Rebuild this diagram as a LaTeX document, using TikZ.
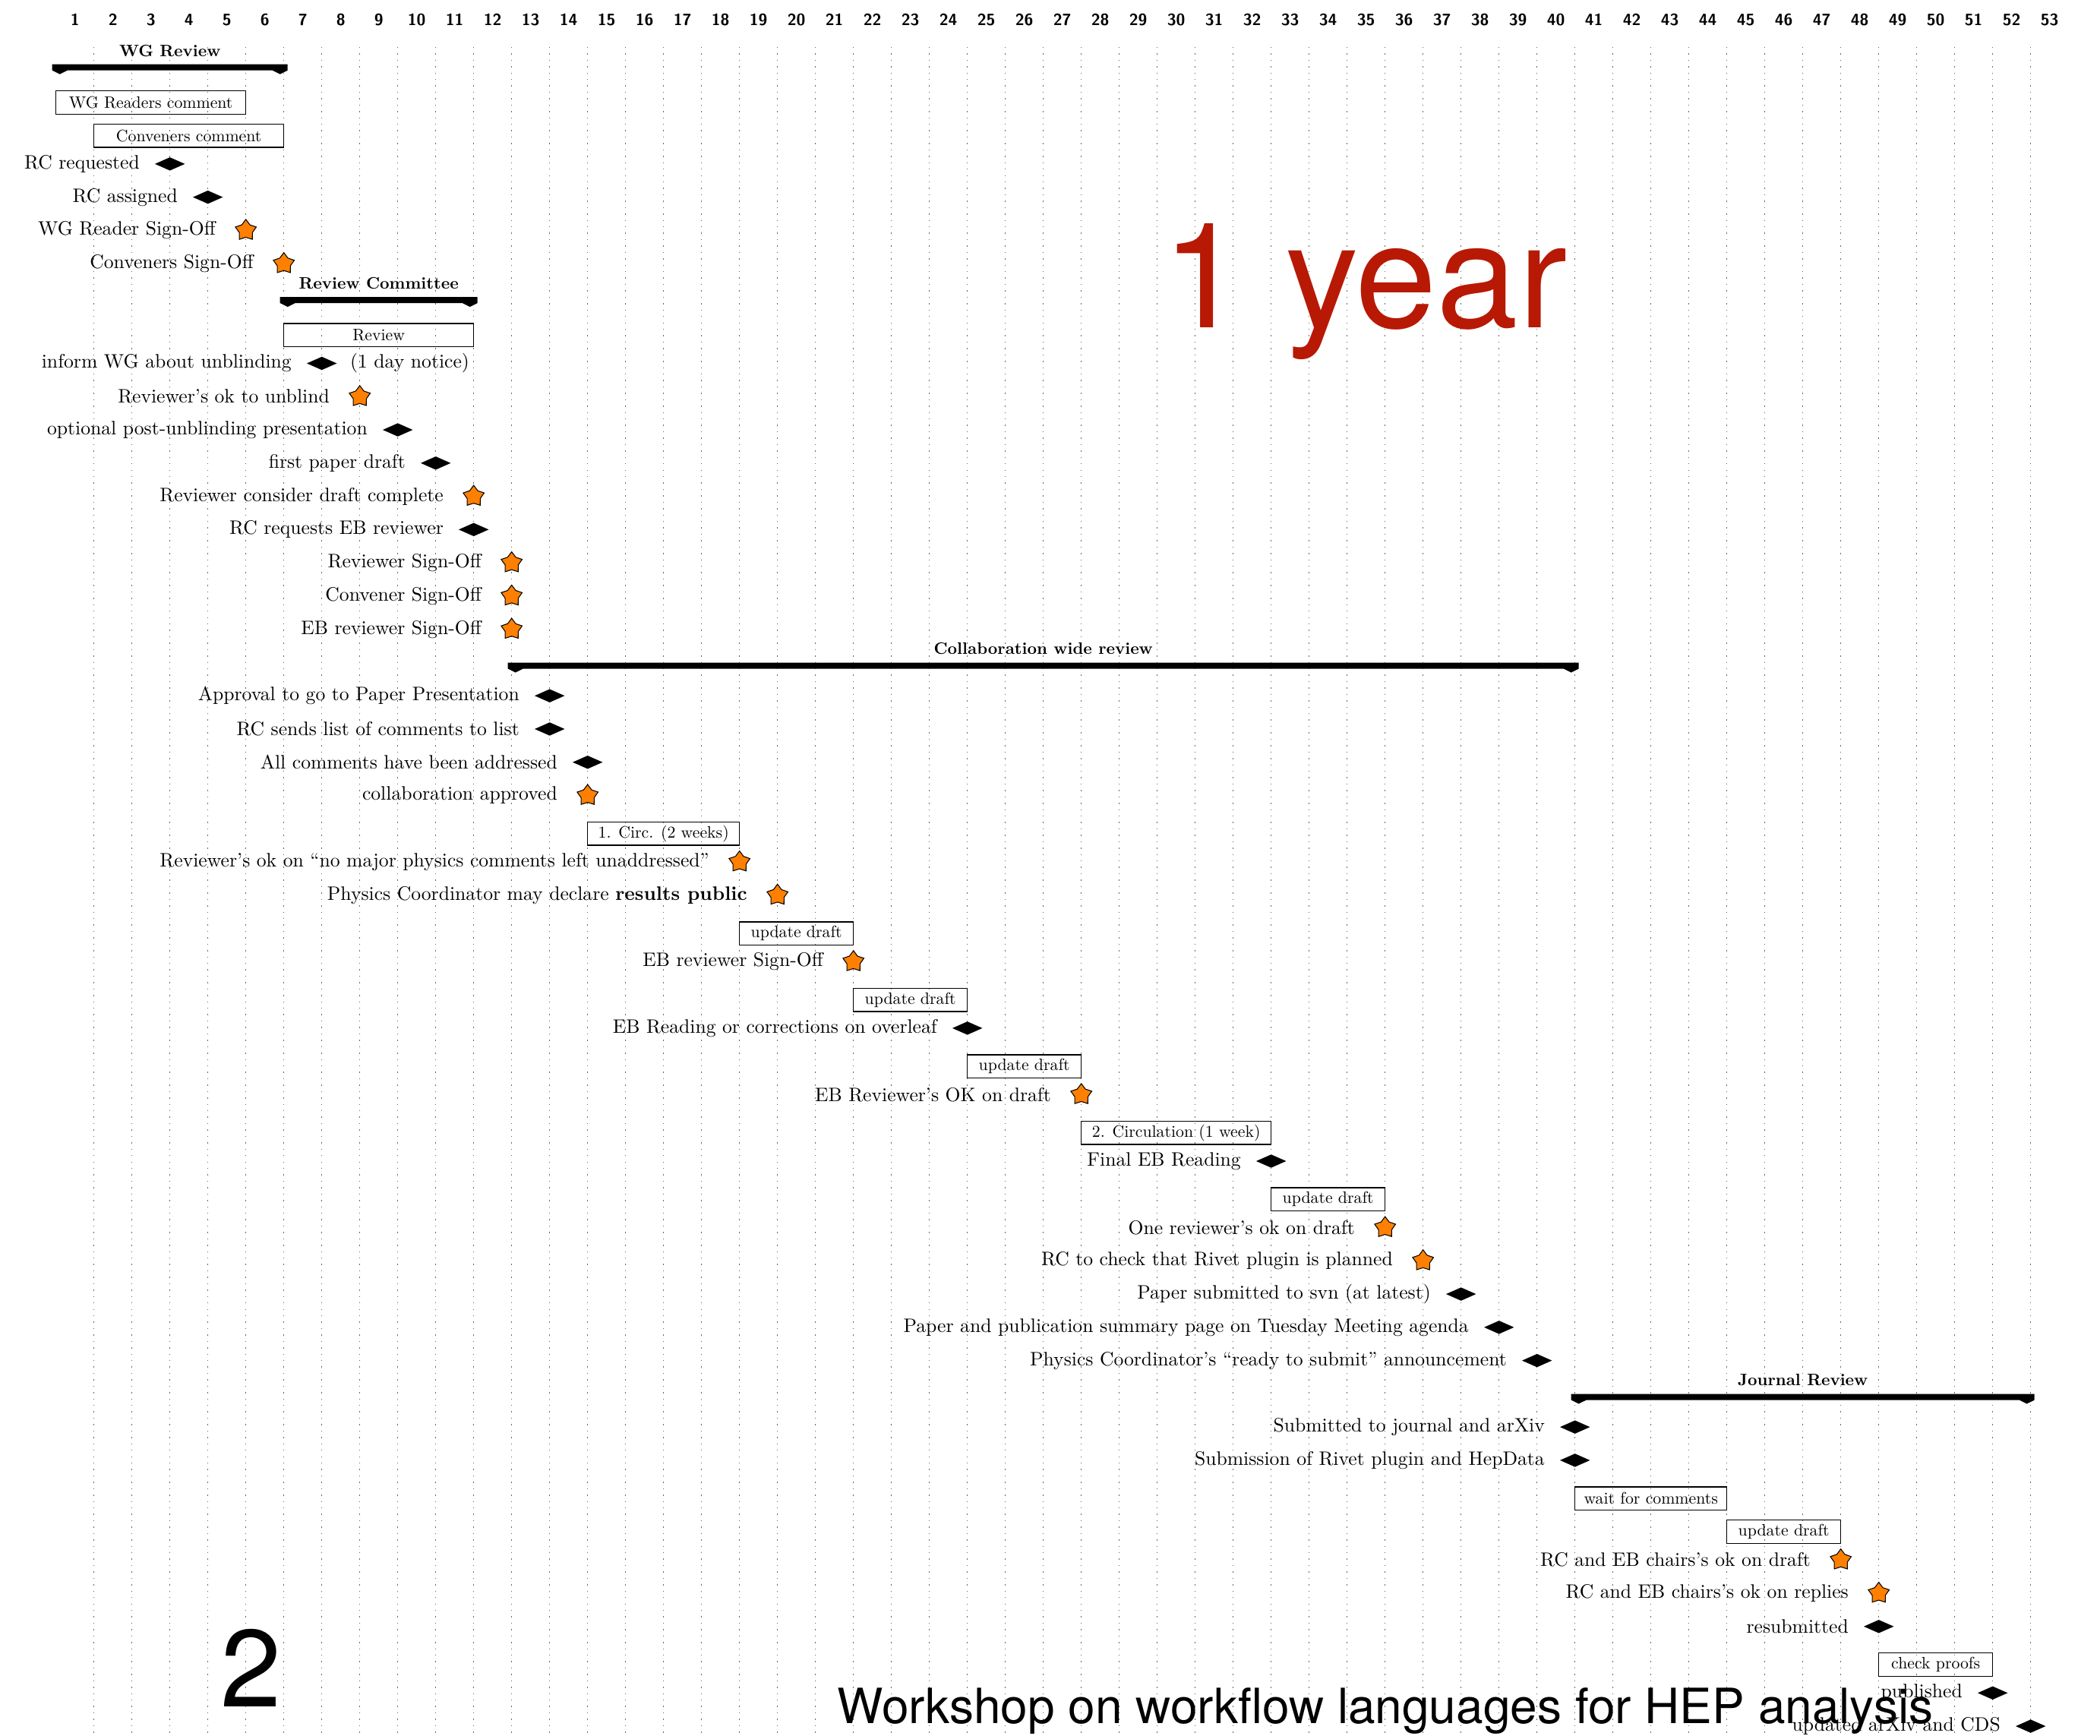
\documentclass[tikz,border=0pt]{standalone}
\usepackage{fontspec}
\setmainfont{lmroman10-regular.otf}[BoldFont=lmroman10-bold.otf, ItalicFont=lmroman10-italic.otf, BoldItalicFont=lmroman10-bolditalic.otf]
\setsansfont{lmsans10-regular.otf}[BoldFont=lmsans10-bold.otf]
\usepackage{tikz}
\usetikzlibrary{positioning,shapes.geometric}
\newfontfamily\heros{TeX Gyre Heros}
\definecolor{yearred}{RGB}{183,25,5}

\begin{document}
\begin{tikzpicture}[font=\fontsize{7.3}{9}\selectfont,
        ms/.style={diamond, fill=black, minimum width=0.4cm, minimum height=0.18cm, inner sep=0pt},
        st/.style={star, star points=5, star point ratio=1.6, draw=black, line width=0.3pt, fill=orange, minimum size=0.29cm, inner sep=0pt},
        bar/.style={rectangle, draw, line width=0.4pt, minimum height=0.307cm, inner sep=0pt, font=\fontsize{6.2}{7.5}\selectfont},
        grp/.style={font=\bfseries\fontsize{6.2}{7.5}\selectfont},
        colnum/.style={font=\sffamily\bfseries\fontsize{6.1}{7}\selectfont},
        vgrid/.style={dotted, black!60, line width=0.4pt},
        big/.style={anchor=base, inner sep=0pt}]
    \useasboundingbox (0,0) rectangle (27.65,-22.85);

    \begin{scope}[shift={(0.737cm,-0.399cm)}, x=0.5cm, y=-0.4377cm]
        % week numbers and grid
        \foreach \k in {1,...,53}
            \node[colnum] (n\k) at (\k-0.5,-0.318) {\k};
        \foreach \k in {1,...,52}
            \draw[vgrid] (\k,0.5) -- (\k,51.3);

        % WG Review
        \fill (-0.1,1.023) -- (6.1,1.023) -- (6.1,1.206) -- (5.9,1.32) -- (5.7,1.206) -- (0.3,1.206) -- (0.1,1.32) -- (-0.1,1.206) -- cycle;
        \node[grp] (wgrev) at (3,0.61) {WG Review};
        \node[bar, minimum width=2.5cm] (wgread) at (2.5,2.17) {WG Readers comment};
        \node[bar, minimum width=2.5cm] (convcom) at (3.5,3.17) {Conveners comment};
        \node[ms] (rcreq) at (3,4.02) {};
        \node[left=0.275cm of rcreq.center] (rcreqtxt) {RC requested};
        \node[ms] (rcass) at (4,5.02) {};
        \node[left=0.275cm of rcass.center] (rcasstxt) {RC assigned};
        \node[st] (wgsign) at (5,6.02) {};
        \node[left=0.275cm of wgsign.center] (wgsigntxt) {WG Reader Sign-Off};
        \node[st] (convsign) at (6,7.02) {};
        \node[left=0.275cm of convsign.center] (convsigntxt) {Conveners Sign-Off};

        % Review Committee
        \fill (5.9,8.023) -- (11.1,8.023) -- (11.1,8.206) -- (10.9,8.32) -- (10.7,8.206) -- (6.3,8.206) -- (6.1,8.32) -- (5.9,8.206) -- cycle;
        \node[grp] (rcrev) at (8.5,7.61) {Review Committee};
        \node[bar, minimum width=2.5cm] (review) at (8.5,9.17) {Review};
        \node[ms] (inform) at (7,10.02) {};
        \node[left=0.275cm of inform.center] (informtxt) {inform WG about unblinding};
        \node[right=0.25cm of inform.center] (notice) {(1 day notice)};
        \node[st] (unblind) at (8,11.02) {};
        \node[left=0.275cm of unblind.center] (unblindtxt) {Reviewer's ok to unblind};
        \node[ms] (postpres) at (9,12.02) {};
        \node[left=0.275cm of postpres.center] (postprestxt) {optional post-unblinding presentation};
        \node[ms] (draft) at (10,13.02) {};
        \node[left=0.275cm of draft.center] (drafttxt) {first paper draft};
        \node[st] (complete) at (11,14.02) {};
        \node[left=0.275cm of complete.center] (completetxt) {Reviewer consider draft complete};
        \node[ms] (ebreq) at (11,15.02) {};
        \node[left=0.275cm of ebreq.center] (ebreqtxt) {RC requests EB reviewer};
        \node[st] (revsign) at (12,16.02) {};
        \node[left=0.275cm of revsign.center] (revsigntxt) {Reviewer Sign-Off};
        \node[st] (cvsign) at (12,17.02) {};
        \node[left=0.275cm of cvsign.center] (cvsigntxt) {Convener Sign-Off};
        \node[st] (ebsign) at (12,18.02) {};
        \node[left=0.275cm of ebsign.center] (ebsigntxt) {EB reviewer Sign-Off};

        % Collaboration wide review
        \fill (11.9,19.023) -- (40.1,19.023) -- (40.1,19.206) -- (39.9,19.32) -- (39.7,19.206) -- (12.3,19.206) -- (12.1,19.32) -- (11.9,19.206) -- cycle;
        \node[grp] (collrev) at (26,18.61) {Collaboration wide review};
        \node[ms] (approval) at (13,20.02) {};
        \node[left=0.275cm of approval.center] (approvaltxt) {Approval to go to Paper Presentation};
        \node[ms] (sendlist) at (13,21.02) {};
        \node[left=0.275cm of sendlist.center] (sendlisttxt) {RC sends list of comments to list};
        \node[ms] (addressed) at (14,22.02) {};
        \node[left=0.275cm of addressed.center] (addressedtxt) {All comments have been addressed};
        \node[st] (approved) at (14,23.02) {};
        \node[left=0.275cm of approved.center] (approvedtxt) {collaboration approved};
        \node[bar, minimum width=2cm] (circa) at (16,24.17) {1. Circ. (2 weeks)};
        \node[st] (physok) at (18,25.02) {};
        \node[left=0.275cm of physok.center] (physoktxt) {Reviewer's ok on ``no major physics comments left unaddressed''};
        \node[st] (public) at (19,26.02) {};
        \node[left=0.275cm of public.center] (publictxt) {Physics Coordinator may declare \textbf{results public}};
        \node[bar, minimum width=1.5cm] (upda) at (19.5,27.17) {update draft};
        \node[st] (ebsignb) at (21,28.02) {};
        \node[left=0.275cm of ebsignb.center] (ebsignbtxt) {EB reviewer Sign-Off};
        \node[bar, minimum width=1.5cm] (updb) at (22.5,29.17) {update draft};
        \node[ms] (overleaf) at (24,30.02) {};
        \node[left=0.275cm of overleaf.center] (overleaftxt) {EB Reading or corrections on overleaf};
        \node[bar, minimum width=1.5cm] (updc) at (25.5,31.17) {update draft};
        \node[st] (ebok) at (27,32.02) {};
        \node[left=0.275cm of ebok.center] (eboktxt) {EB Reviewer's OK on draft};
        \node[bar, minimum width=2.5cm] (circb) at (29.5,33.17) {2. Circulation (1 week)};
        \node[ms] (ebfinal) at (32,34.02) {};
        \node[left=0.275cm of ebfinal.center] (ebfinaltxt) {Final EB Reading};
        \node[bar, minimum width=1.5cm] (updd) at (33.5,35.17) {update draft};
        \node[st] (oneok) at (35,36.02) {};
        \node[left=0.275cm of oneok.center] (oneoktxt) {One reviewer's ok on draft};
        \node[st] (rivet) at (36,37.02) {};
        \node[left=0.275cm of rivet.center] (rivettxt) {RC to check that Rivet plugin is planned};
        \node[ms] (svn) at (37,38.02) {};
        \node[left=0.275cm of svn.center] (svntxt) {Paper submitted to svn (at latest)};
        \node[ms] (agenda) at (38,39.02) {};
        \node[left=0.275cm of agenda.center] (agendatxt) {Paper and publication summary page on Tuesday Meeting agenda};
        \node[ms] (ready) at (39,40.02) {};
        \node[left=0.275cm of ready.center] (readytxt) {Physics Coordinator's ``ready to submit'' announcement};

        % Journal Review
        \fill (39.9,41.023) -- (52.1,41.023) -- (52.1,41.206) -- (51.9,41.32) -- (51.7,41.206) -- (40.3,41.206) -- (40.1,41.32) -- (39.9,41.206) -- cycle;
        \node[grp] (jrev) at (46,40.61) {Journal Review};
        \node[ms] (submit) at (40,42.02) {};
        \node[left=0.275cm of submit.center] (submittxt) {Submitted to journal and arXiv};
        \node[ms] (hepdata) at (40,43.02) {};
        \node[left=0.275cm of hepdata.center] (hepdatatxt) {Submission of Rivet plugin and HepData};
        \node[bar, minimum width=2cm] (waitcom) at (42,44.17) {wait for comments};
        \node[bar, minimum width=1.5cm] (upde) at (45.5,45.17) {update draft};
        \node[st] (chairdraft) at (47,46.02) {};
        \node[left=0.275cm of chairdraft.center] (chairdrafttxt) {RC and EB chairs's ok on draft};
        \node[st] (chairreply) at (48,47.02) {};
        \node[left=0.275cm of chairreply.center] (chairreplytxt) {RC and EB chairs's ok on replies};
        \node[ms] (resub) at (48,48.02) {};
        \node[left=0.275cm of resub.center] (resubtxt) {resubmitted};
        \node[bar, minimum width=1.5cm] (proofs) at (49.5,49.17) {check proofs};
        \node[ms] (published) at (51,50.02) {};
        \node[left=0.275cm of published.center] (publishedtxt) {published};
        \node[ms] (updated) at (52,51.02) {};
        \node[left=0.275cm of updated.center] (updatedtxt) {updated arXiv and CDS};
    \end{scope}

    % slide overlay
    \node[big, text=yearred, font=\heros\fontsize{55}{60}\selectfont] (year) at (17.97,-4.31) {1 year};
    \node[big, font=\heros\fontsize{41}{45}\selectfont] (page) at (3.31,-22.47) {2};
    \node[big, font=\heros\fontsize{18.2}{20}\selectfont] (workshop) at (18.24,-22.69) {Workshop on workflow languages for HEP analysis};
\end{tikzpicture}
\end{document}
